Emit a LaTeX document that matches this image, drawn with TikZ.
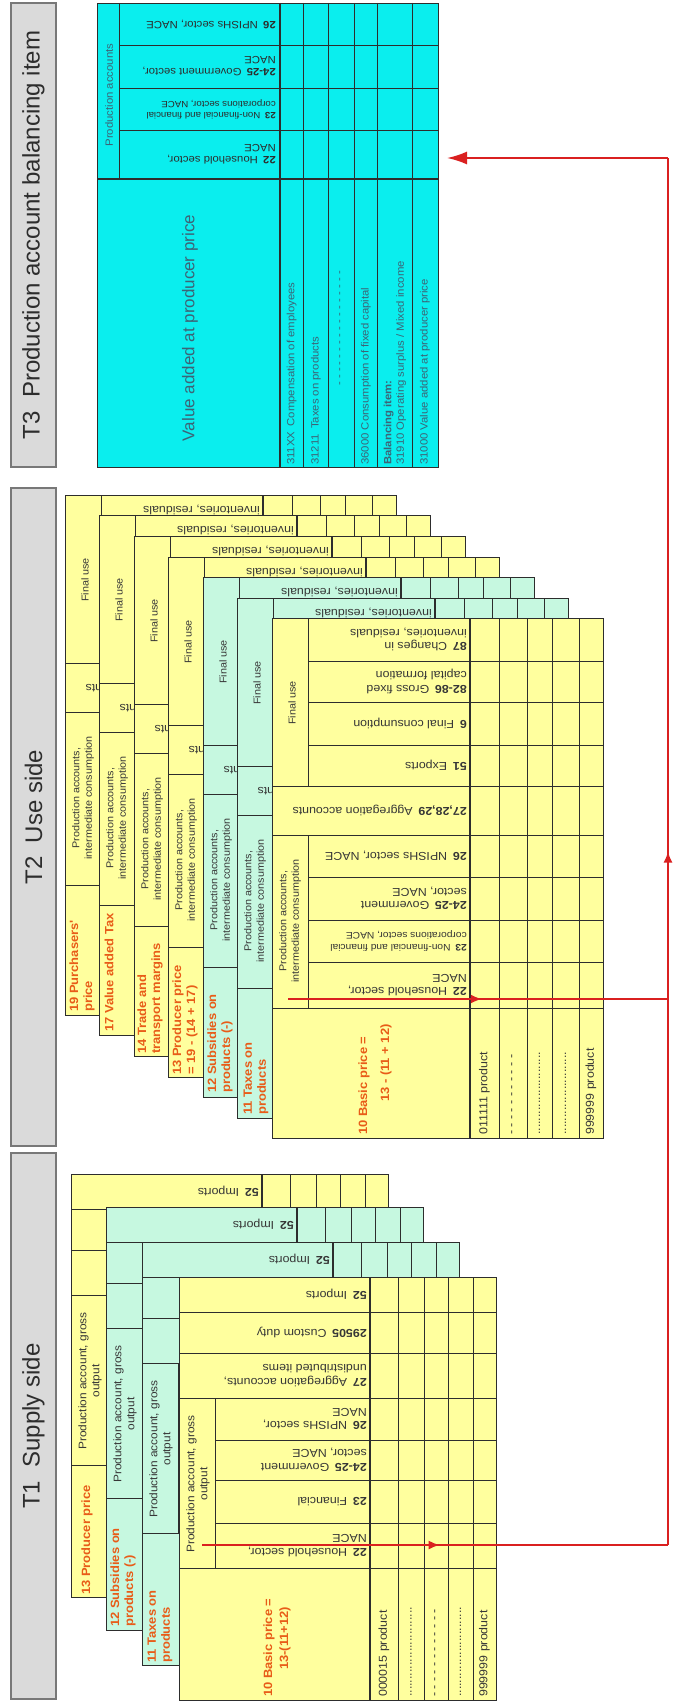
\documentclass[tikz,border=0pt]{standalone}
\usepackage{fontspec}
\setmainfont{Liberation Sans}
\newfontfamily\tblfont{Liberation Sans}[FakeStretch=1.08]
\usetikzlibrary{arrows.meta,decorations.markings}
\definecolor{ylw}{RGB}{255,255,158}
\definecolor{mint}{RGB}{198,248,224}
\definecolor{cyn}{RGB}{10,238,238}
\definecolor{barfill}{RGB}{218,218,218}
\definecolor{barline}{RGB}{120,120,120}
\definecolor{grid}{RGB}{45,45,45}
\definecolor{lbl}{RGB}{232,92,24}
\definecolor{arr}{RGB}{218,32,32}
\definecolor{txt}{RGB}{55,55,55}
\definecolor{ttxt}{RGB}{60,100,118}
\newcommand{\hfnt}{\tblfont\fontsize{11.5}{13.5}\selectfont}
\newcommand{\gfnt}{\tblfont\fontsize{10}{12.5}\selectfont}
\newcommand{\sfnt}{\tblfont\fontsize{10.5}{12.5}\selectfont}
\newcommand{\xfnt}{\tblfont\fontsize{9.5}{11.5}\selectfont}
\newcommand{\lfnt}{\tblfont\bfseries\fontsize{12}{14}\selectfont}
\tikzset{
  gl/.style={draw=grid, line width=0.9pt},
  thk/.style={draw=grid, line width=2.2pt},
  hdr/.style={rotate=180, anchor=west, align=left, inner sep=1pt, font=\hfnt, text=txt},
  thdr/.style={hdr, font=\sfnt, text=grid},
  vlab/.style={rotate=90, anchor=west, align=left, inner sep=1pt, font=\hfnt, text=txt},
  vctr/.style={rotate=90, align=center, inner sep=1pt, font=\gfnt, text=txt},
  olab/.style={rotate=90, anchor=west, align=left, inner sep=1pt, font=\lfnt, text=lbl},
  bar/.style={draw=barline, fill=barfill, line width=1.5pt, rotate=90, inner sep=0pt, minimum height=45pt, font=\fontsize{24}{28}\selectfont, text=grid},
  redline/.style={draw=arr, line width=2pt},
  mid/.style={postaction={decorate}, decoration={markings, mark=at position #1 with {\arrow{Latex[length=11pt,width=9pt]}}}},
}
% T1 supply sheet: #1 name, #2 x, #3 y, #4 fill
\newcommand{\SupSheet}[4]{%
\begin{scope}[shift={(#2,#3)}]
\fill[#4] (0,0) rectangle (317,423);
\draw[gl] (0,35)--(317,35) (0,76)--(317,76) (0,121)--(317,121)
  (36,163)--(317,163) (36,203)--(317,203) (36,246)--(317,246)
  (0,291)--(317,291) (36,121)--(36,291)
  (219,0)--(219,423) (245,0)--(245,423) (269,0)--(269,423) (294,0)--(294,423);
\draw[thk] (191,0)--(191,423);
\draw[gl] (0,0) rectangle (317,423);
\node[hdr] (#1-52) at (189,17.5) {\textbf{52}\enspace Imports};
\node[hdr] (#1-295) at (189,55.5) {\textbf{29505}\enspace Custom duty};
\node[hdr] (#1-27) at (189,98.5) {\textbf{27}\enspace Aggregation accounts,\\undistributed items};
\node[hdr] (#1-26) at (189,142) {\textbf{26}\enspace NPISHs sector,\\NACE};
\node[hdr] (#1-24) at (189,183) {\textbf{24-25}\enspace Government\\sector, NACE};
\node[hdr] (#1-23) at (189,224.5) {\textbf{23}\enspace Financial};
\node[hdr] (#1-22) at (189,268.5) {\textbf{22}\enspace Household sector,\\NACE};
\node[vctr, font=\tblfont\fontsize{11}{13}\selectfont] (#1-pa) at (19,207) {Production account, gross\\output};
\node[vlab] (#1-p1) at (205,421) {000015 product};
\node[vlab] (#1-p2) at (232,421) {..........................};
\node[vlab] (#1-p3) at (257,421) {- - - - - - - - - - - -};
\node[vlab] (#1-p4) at (281.5,421) {..........................};
\node[vlab] (#1-p5) at (305.5,421) {999999 product};
\end{scope}}
% T2 use sheet
\newcommand{\UseSheet}[4]{%
\begin{scope}[shift={(#2,#3)}]
\fill[#4] (0,0) rectangle (331,520);
\draw[gl] (36,43)--(331,43) (36,84)--(331,84) (36,127)--(331,127)
  (0,168)--(331,168) (0,217)--(331,217)
  (36,259)--(331,259) (36,302)--(331,302) (36,344)--(331,344)
  (0,390)--(331,390)
  (36,0)--(36,168) (36,217)--(36,390)
  (227,0)--(227,520) (255,0)--(255,520) (280,0)--(280,520) (307,0)--(307,520);
\draw[thk] (198,0)--(198,520);
\draw[gl] (0,0) rectangle (331,520);
\node[hdr] (#1-87) at (196,21.5) {\textbf{87}\enspace Changes in\\inventories, residuals};
\node[hdr] (#1-82) at (196,63.5) {\textbf{82-86}\enspace Gross fixed\\capital formation};
\node[hdr] (#1-6) at (196,105.5) {\textbf{6}\enspace Final consumption};
\node[hdr] (#1-51) at (196,147.5) {\textbf{51}\enspace Exports};
\node[hdr] (#1-27) at (196,192.5) {\textbf{27,28,29}\enspace Aggregation accounts};
\node[hdr] (#1-26) at (196,238) {\textbf{26}\enspace NPISHs sector, NACE};
\node[hdr] (#1-24) at (196,280.5) {\textbf{24-25}\enspace Government\\sector, NACE};
\node[hdr, font=\xfnt] (#1-23) at (196,323) {\textbf{23}\enspace Non-financial and financial\\corporations sector, NACE};
\node[hdr] (#1-22) at (196,367) {\textbf{22}\enspace Household sector,\\NACE};
\node[vctr] (#1-fu) at (20,85) {Final use};
\node[vctr] (#1-pa) at (18,303) {Production accounts,\\intermediate consumption};
\node[vlab] (#1-p1) at (212.5,518) {011111 product};
\node[vlab] (#1-p2) at (241,518) {- - - - - - - - - - -};
\node[vlab] (#1-p3) at (267.5,518) {........................};
\node[vlab] (#1-p4) at (293.5,518) {........................};
\node[vlab] (#1-p5) at (319,518) {999999 product};
\end{scope}}
\begin{document}
\begin{tikzpicture}[x=1pt,y=-1pt]
\useasboundingbox (0,0) rectangle (675,1702);
\fill[white] (0,0) rectangle (675,1702);
% title bars
\node[bar, minimum width=464pt] (t3bar) at (33.5,235) {T3\ \ Production account balancing item};
\node[bar, minimum width=658pt] (t2bar) at (33.5,817) {T2\ \ Use side};
\node[bar, minimum width=546pt] (t1bar) at (33.5,1426) {T1\ \ Supply side};
% ---------- T3 ----------
\fill[cyn] (97,3) rectangle (438,467);
\draw[gl] (119,3)--(119,179) (119,45)--(438,45) (119,88)--(438,88) (119,130)--(438,130)
  (303.5,3)--(303.5,467) (328.5,3)--(328.5,467) (354,3)--(354,467)
  (377.5,3)--(377.5,467) (412,3)--(412,467);
\draw[thk] (280,3)--(280,467) (97,179)--(438,179);
\draw[gl] (97,3) rectangle (438,467);
\node[vctr, font=\sfnt, text=ttxt] (t3pa) at (109,95) {Production accounts};
\node[thdr] (t3h26) at (277,24) {\textbf{26}\enspace NPISHs sector, NACE};
\node[thdr] (t3h24) at (277,66) {\textbf{24-25}\enspace Government sector,\\NACE};
\node[thdr, font=\tblfont\fontsize{9}{11}\selectfont] (t3h23) at (277,109) {\textbf{23}\enspace Non-financial and financial\\corporations sector, NACE};
\node[thdr] (t3h22) at (277,154.5) {\textbf{22}\enspace Household sector,\\NACE};
\node[rotate=90, inner sep=0pt, font=\fontsize{17}{20}\selectfont, text=ttxt] (t3va) at (190,328) {Value added at producer price};
\node[vlab, font=\sfnt, text=ttxt] (t3r1) at (291.75,466) {311XX\enspace Compensation of employees};
\node[vlab, font=\sfnt, text=ttxt] (t3r2) at (316,466) {31211\enspace Taxes on products};
\node[vlab, font=\sfnt, text=ttxt] (t3r3) at (341,387) {- - - - - - - - - - - - - - - - -};
\node[vlab, font=\sfnt, text=ttxt] (t3r4) at (366,466) {36000 Consumption of fixed capital};
\node[vlab, font=\sfnt, text=ttxt] (t3r5) at (395,466) {\textbf{Balancing item:}\\31910 Operating surplus / Mixed income};
\node[vlab, font=\sfnt, text=ttxt] (t3r6) at (425,466) {31000 Value added at producer price};
% ---------- T1 ----------
\SupSheet{sa}{71}{1174}{ylw}
\node[olab] (l13s) at (87,1596) {13 Producer price};
\SupSheet{sb}{106}{1207}{mint}
\node[olab] (l12s) at (123,1628) {12 Subsidies on\\products (-)};
\SupSheet{sc}{142}{1242}{mint}
\node[olab] (l11s) at (160,1664) {11 Taxes on\\products};
\SupSheet{sd}{179}{1277}{ylw}
\node[olab] (l10s) at (269,1698) {10 Basic price =};
\node[olab] (l10sb) at (285,1671) {13-(11+12)};
% ---------- T2 ----------
\UseSheet{u0}{65}{495}{ylw}
\node[olab] (l19u) at (82,1013) {19 Purchasers'\\price};
\UseSheet{u1}{99}{515}{ylw}
\node[olab] (l17u) at (109,1033) {17 Value added Tax};
\UseSheet{u2}{134}{536}{ylw}
\node[olab] (l14u) at (150,1055) {14 Trade and\\transport margins};
\UseSheet{u3}{168}{557}{ylw}
\node[olab] (l13u) at (185,1076) {13 Producer price\\= 19 - (14 + 17)};
\UseSheet{u4}{203}{577}{mint}
\node[olab] (l12u) at (220,1094) {12 Subsidies on\\products (-)};
\UseSheet{u5}{237}{598}{mint}
\node[olab] (l11u) at (256,1116) {11 Taxes on\\products};
\UseSheet{u6}{272}{618}{ylw}
\node[olab] (l10u) at (364,1136) {10 Basic price =};
\node[olab] (l10ub) at (386,1103) {13 - (11 + 12)};
% ---------- red flow ----------
\coordinate (a1) at (202,1545);
\coordinate (a2) at (668,1545);
\coordinate (a3) at (668,158);
\coordinate (a4) at (447,158);
\coordinate (b1) at (288,999);
\coordinate (b2) at (668,999);
\draw[redline, mid=0.51] (a1) -- (a2);
\draw[redline, mid=0.5] (a2) -- (a3);
\draw[redline, -{Latex[length=20pt,width=13pt]}] (a3) -- (a4);
\draw[redline, mid=0.51] (b1) -- (b2);
\end{tikzpicture}
\end{document}
